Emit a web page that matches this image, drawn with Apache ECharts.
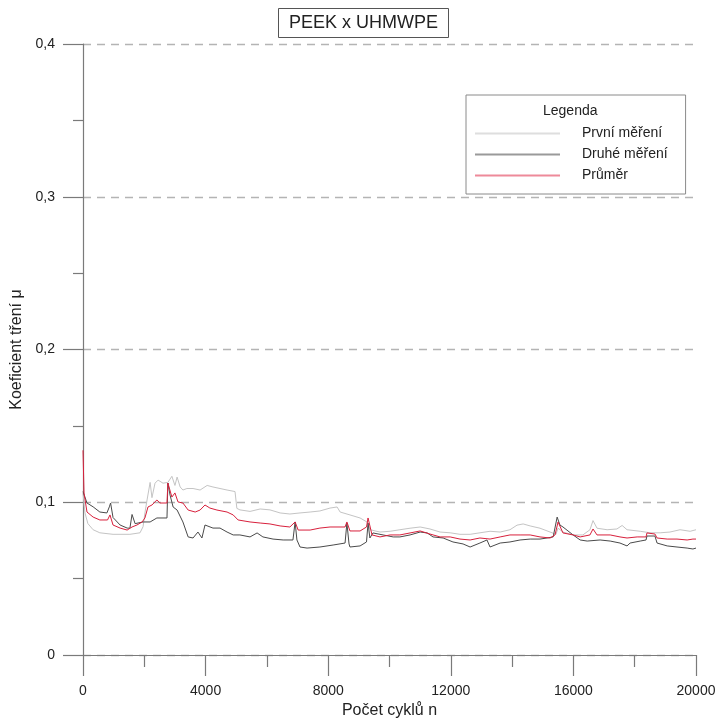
<!DOCTYPE html>
<html>
<head>
<meta charset="utf-8">
<script src="https://cdn.jsdelivr.net/npm/echarts@6/dist/echarts.min.js"></script>
<style>html,body{margin:0;padding:0;background:#fff}#c{width:716px;height:720px}</style>
</head>
<body>
<div id="c"></div>
<script>
// ---- data ----
const titleText = 'PEEK x UHMWPE';
const seriesNames = ['První měření', 'Druhé měření', 'Průměr'];
const xTicks = [0, 4000, 8000, 12000, 16000, 20000];
const yTicks = ['0', '0,1', '0,2', '0,3', '0,4'];

const prvniCycles = [0,65,160,330,550,980,1530,1860,1960,2020,2090,2190,2250,2350,2450,2610,2770,2900,3000,3070,3170,3260,3390,3590,3820,4050,4240,4470,4700,4960,5020,5120,5450,5780,6100,6430,6750,7080,7410,7730,8060,8290,8390,8710,9040,9270,9370,9690,10020,10340,10670,11000,11320,11650,11980,12300,12630,12950,13280,13610,13930,14160,14360,14590,14910,15240,15430,15500,15660,15990,16310,16540,16640,16770,17100,17420,17590,17750,18180,18500,18830,19150,19480,19810,20000];
const prvni = [0.106,0.093,0.086,0.082,0.080,0.079,0.079,0.080,0.084,0.093,0.1015,0.113,0.103,0.1125,0.1145,0.1125,0.113,0.117,0.111,0.1165,0.110,0.108,0.109,0.109,0.108,0.111,0.110,0.109,0.108,0.107,0.096,0.095,0.094,0.0956,0.095,0.093,0.0923,0.093,0.0936,0.0943,0.0962,0.0969,0.0936,0.0917,0.0897,0.087,0.082,0.0805,0.081,0.082,0.083,0.0838,0.0825,0.0805,0.080,0.079,0.079,0.080,0.081,0.0805,0.082,0.085,0.0858,0.0845,0.083,0.0805,0.079,0.083,0.0805,0.0786,0.0786,0.082,0.088,0.083,0.082,0.0825,0.0848,0.082,0.081,0.080,0.080,0.0805,0.082,0.081,0.082];

const druheCycles = [0,130,330,550,780,860,900,980,1210,1440,1530,1600,1700,1960,2190,2410,2740,2770,2840,2940,3070,3260,3430,3590,3750,3880,3980,4240,4470,4700,4900,5120,5450,5680,5870,6200,6530,6850,6920,6980,7080,7310,7730,8160,8550,8610,8680,8710,9040,9250,9300,9360,9460,9790,10120,10340,10670,11000,11230,11420,11750,12070,12400,12630,12950,13180,13280,13610,13930,14260,14590,14910,15140,15340,15470,15560,15660,15990,16220,16450,16870,17200,17520,17750,17850,18180,18370,18400,18660,18730,19060,19380,19710,19900,20000];
const druhe = [0.107,0.0995,0.097,0.0936,0.093,0.097,0.0995,0.090,0.0851,0.0831,0.083,0.092,0.086,0.0871,0.0871,0.0897,0.0897,0.1126,0.1047,0.0969,0.0949,0.0871,0.0773,0.0766,0.0805,0.0766,0.0851,0.0831,0.0831,0.0805,0.0786,0.0786,0.0773,0.0799,0.0773,0.0759,0.0753,0.0753,0.0871,0.0753,0.0707,0.0700,0.0707,0.0720,0.0733,0.0864,0.0727,0.0707,0.0714,0.0740,0.0864,0.0766,0.0799,0.0786,0.0773,0.0773,0.0786,0.0805,0.0799,0.0773,0.0766,0.0740,0.0727,0.0707,0.0733,0.0753,0.0707,0.0733,0.0740,0.0753,0.0759,0.0759,0.0766,0.0773,0.0903,0.0851,0.0838,0.0786,0.0753,0.0746,0.0753,0.0746,0.0733,0.0714,0.0733,0.0746,0.0753,0.0779,0.0779,0.0733,0.0714,0.0707,0.0700,0.0694,0.0700];

const prumerCycles = [0,33,130,330,550,800,880,980,1210,1440,1600,1760,1930,2020,2120,2250,2410,2510,2740,2770,2900,3000,3100,3260,3430,3660,3820,3980,4140,4370,4700,4900,5060,5450,5780,6100,6430,6750,6920,7020,7410,7730,8060,8550,8610,8710,9040,9250,9300,9430,9690,10020,10340,10670,11000,11320,11650,11980,12300,12630,12950,13280,13610,13930,14260,14590,14910,15240,15400,15500,15660,15990,16220,16540,16640,16770,17200,17520,17750,18080,18370,18400,18660,18730,19060,19380,19710,19900,20000];
const prumer = [0.134,0.106,0.0936,0.0903,0.0884,0.0884,0.0917,0.0851,0.0831,0.0818,0.0838,0.0851,0.0871,0.0897,0.0969,0.0982,0.1015,0.0995,0.0995,0.1126,0.1034,0.1061,0.1002,0.0995,0.0949,0.0936,0.0949,0.0982,0.0962,0.0949,0.0936,0.0917,0.0884,0.0871,0.0864,0.0858,0.0845,0.0838,0.0871,0.0818,0.0818,0.0831,0.0838,0.0838,0.0871,0.0812,0.0812,0.0838,0.0897,0.0786,0.0773,0.0786,0.0786,0.0799,0.0812,0.0792,0.0773,0.0773,0.0759,0.0753,0.0766,0.0759,0.0773,0.0786,0.0786,0.0786,0.0773,0.0766,0.0786,0.0871,0.0799,0.0786,0.0773,0.0786,0.0825,0.0786,0.0786,0.0773,0.0766,0.0773,0.0773,0.0799,0.0792,0.0766,0.0759,0.0759,0.0753,0.0759,0.0759];

// ---- chart ----
const zip = (xs, ys) => xs.map((x, i) => [x, ys[i]]);
const colors = ['#c4c4c4', '#4a4a4a', '#d8203c'];
const legendColors = ['#dedede', '#9a9a9a', '#ee8a9a'];
const axisCol = '#7a7a7a';
const font = 'Liberation Sans, Arial, sans-serif';

const chart = echarts.init(document.getElementById('c'));
chart.setOption({
  animation: false,
  backgroundColor: '#fff',
  color: colors,
  title: [{
    text: titleText, left: 278, top: 8,
    padding: [6, 11, 6, 11],
    borderWidth: 1, borderColor: '#555',
    textStyle: { fontFamily: font, fontSize: 18, fontWeight: 'normal', color: '#222' }
  }, {
    text: 'Legenda', left: 543, top: 104, padding: 0,
    textStyle: { fontFamily: font, fontSize: 14, fontWeight: 'normal', color: '#222' }
  }],
  legend: {
    orient: 'vertical', left: 466, top: 95,
    padding: [31, 18, 11, 9],
    borderWidth: 1, borderColor: '#8a8a8a',
    itemWidth: 85, itemHeight: 2, itemGap: 6,
    icon: 'rect',
    textStyle: { fontFamily: font, fontSize: 14, color: '#222', padding: [0, 0, 0, 17], lineHeight: 15 },
    data: seriesNames.map((n, i) => ({ name: n, itemStyle: { color: legendColors[i] } }))
  },
  grid: { left: 83, right: 20, top: 44, bottom: 65, containLabel: false, outerBoundsMode: 'none' },
  xAxis: {
    type: 'value', min: 0, max: 20000, interval: 4000,
    name: 'Počet cyklů n', nameLocation: 'middle', nameGap: 48,
    nameTextStyle: { fontFamily: font, fontSize: 16, color: '#222' },
    axisLine: { lineStyle: { color: axisCol, width: 1.2 } },
    axisTick: { length: 21, lineStyle: { color: axisCol, width: 1.2 } },
    minorTick: { show: true, splitNumber: 2, length: 12, lineStyle: { color: axisCol, width: 1.2 } },
    axisLabel: { margin: 29, fontFamily: font, fontSize: 14, color: '#222',
      formatter: v => xTicks.includes(v) ? String(v) : '' },
    splitLine: { show: false }
  },
  yAxis: {
    type: 'value', min: 0, max: 0.4, interval: 0.1,
    name: 'Koeficient tření μ', nameLocation: 'middle', nameGap: 53,
    nameTextStyle: { fontFamily: font, fontSize: 16, color: '#222' },
    axisLine: { show: true, lineStyle: { color: axisCol, width: 1.2 } },
    axisTick: { show: true, length: 20, lineStyle: { color: axisCol, width: 1.2 } },
    minorTick: { show: true, splitNumber: 2, length: 10, lineStyle: { color: axisCol, width: 1.2 } },
    axisLabel: { margin: 28, fontFamily: font, fontSize: 14, color: '#222',
      formatter: v => yTicks[Math.round(v * 10)] },
    splitLine: { show: true, lineStyle: { color: '#b4b4b4', type: [8, 6], width: 1.3 } }
  },
  series: [
    { name: seriesNames[0], type: 'line', data: zip(prvniCycles, prvni), showSymbol: false, lineStyle: { width: 1, color: colors[0] }, z: 1 },
    { name: seriesNames[1], type: 'line', data: zip(druheCycles, druhe), showSymbol: false, lineStyle: { width: 1, color: colors[1] }, z: 2 },
    { name: seriesNames[2], type: 'line', data: zip(prumerCycles, prumer), showSymbol: false, lineStyle: { width: 1, color: colors[2] }, z: 3 }
  ]
});
</script>
</body>
</html>
